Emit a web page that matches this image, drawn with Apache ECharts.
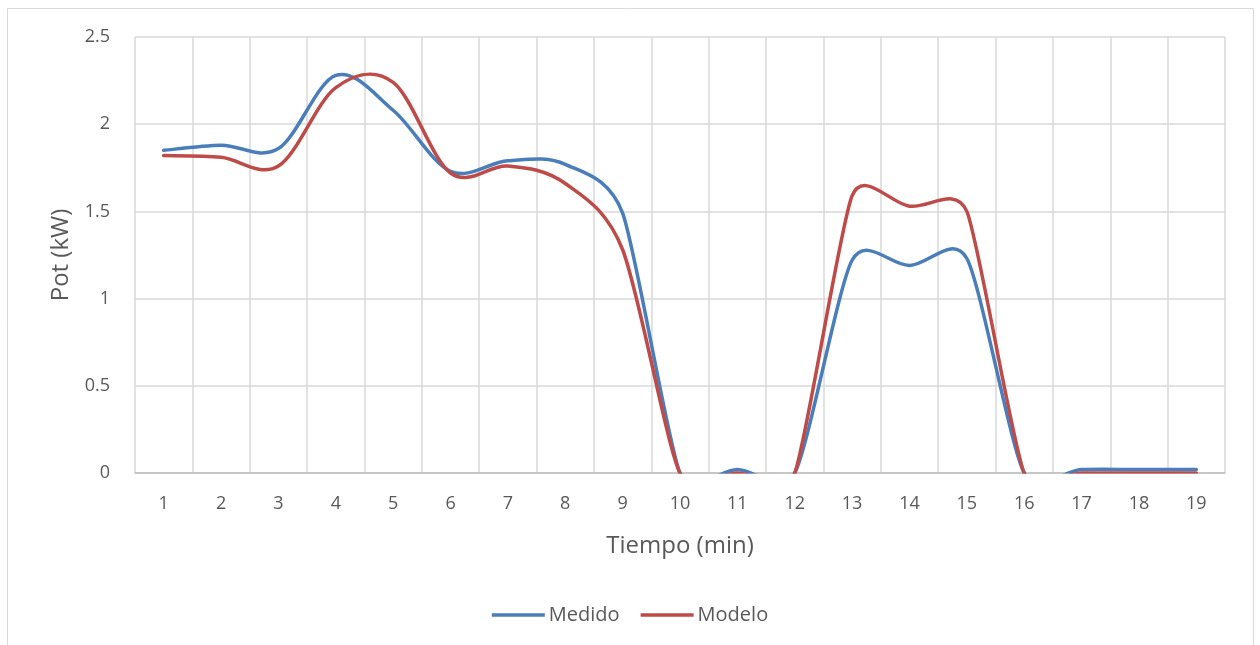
<!DOCTYPE html>
<html>
<head>
<meta charset="utf-8">
<script src="https://cdn.jsdelivr.net/npm/echarts@6/dist/echarts.min.js"></script>
<style>
html,body{margin:0;padding:0;background:#fff;}
#chart{width:1260px;height:645px;}
</style>
</head>
<body>
<div id="chart"></div>
<script>
const categories = ['1','2','3','4','5','6','7','8','9','10','11','12','13','14','15','16','17','18','19'];
const medido = [1.85, 1.88, 1.86, 2.28, 2.08, 1.73, 1.79, 1.77, 1.49, 0, 0.02, 0, 1.22, 1.19, 1.23, 0, 0.02, 0.02, 0.02];
const modelo = [1.82, 1.81, 1.76, 2.21, 2.24, 1.72, 1.76, 1.66, 1.28, 0, 0, 0, 1.59, 1.53, 1.50, 0, 0, 0, 0];
const yTicks = { min: 0, max: 2.5, interval: 0.5 };

const FONT = '"Open Sans", sans-serif';
const TXT = '#595959';
const BLUE = '#4a7ebb';
const RED = '#be4b48';

function dist(a, b) { return Math.hypot(b[0] - a[0], b[1] - a[1]); }

// Excel-like smoothed line: cubic Bezier through the data points (positions from api.coord)
function smoothRender(values, color) {
  return function (params, api) {
    if (params.dataIndex !== 0) return null;
    const pts = values.map((v, i) => api.coord([i, v]));
    const n = pts.length;
    // tangent vector at each point, limited to half of the shorter neighbour segment
    const tan = pts.map((p, i) => {
      const p0 = pts[Math.max(i - 1, 0)], p2 = pts[Math.min(i + 1, n - 1)];
      const d02 = dist(p0, p2);
      if (d02 === 0) return [0, 0];
      let f = 1 / 6;
      const d01 = dist(p0, p), d12 = dist(p, p2);
      const lim = Math.min(i > 0 ? d01 : Infinity, i < n - 1 ? d12 : Infinity) / 2;
      if (d02 * f > lim) f = lim / d02;
      return [(p2[0] - p0[0]) * f, (p2[1] - p0[1]) * f];
    });
    let d = 'M' + pts[0][0] + ',' + pts[0][1];
    for (let i = 0; i < n - 1; i++) {
      const p1 = pts[i], p2 = pts[i + 1];
      d += 'C' + (p1[0] + tan[i][0]) + ',' + (p1[1] + tan[i][1]) + ' ' +
           (p2[0] - tan[i + 1][0]) + ',' + (p2[1] - tan[i + 1][1]) + ' ' + p2[0] + ',' + p2[1];
    }
    const cs = params.coordSys;
    return {
      type: 'group',
      children: [{
        type: 'path',
        shape: { pathData: d },
        style: { fill: 'none', stroke: color, lineWidth: 3.5, lineJoin: 'round', lineCap: 'round' }
      }],
      clipPath: { type: 'rect', shape: { x: cs.x - 5, y: cs.y - 5, width: cs.width + 10, height: cs.height + 5.5 } }
    };
  };
}

const chart = echarts.init(document.getElementById('chart'));
chart.setOption({
  animation: false,
  backgroundColor: '#fff',
  graphic: [{
    type: 'rect', silent: true,
    shape: { x: 7.5, y: 8.5, width: 1246, height: 700 },
    style: { fill: 'none', stroke: '#d9d9d9', lineWidth: 1 }
  }],
  grid: { left: 135, right: 35, top: 37, bottom: 172, containLabel: false },
  legend: {
    data: [
      { name: 'Medido', icon: 'rect' },
      { name: 'Modelo', icon: 'rect' }
    ],
    top: 600, left: 'center',
    itemWidth: 53, itemHeight: 3.5, itemGap: 21,
    textStyle: { fontFamily: FONT, fontSize: 20, color: TXT, padding: [0, 0, 0, -1] }
  },
  xAxis: {
    type: 'category', data: categories, boundaryGap: true,
    name: 'Tiempo (min)', nameLocation: 'middle', nameGap: 61,
    nameTextStyle: { fontFamily: FONT, fontSize: 24, color: TXT },
    axisLine: { lineStyle: { color: '#bfbfbf', width: 1.5 } },
    axisTick: { show: false },
    axisLabel: { fontFamily: FONT, fontSize: 18, color: TXT, margin: 22, interval: 0 },
    splitLine: { show: true, interval: 0, lineStyle: { color: '#d9d9d9', width: 1.5 } }
  },
  yAxis: {
    type: 'value', min: yTicks.min, max: yTicks.max, interval: yTicks.interval,
    name: 'Pot (kW)', nameLocation: 'middle', nameGap: 62, nameRotate: 90,
    nameTextStyle: { fontFamily: FONT, fontSize: 24, color: TXT },
    axisLine: { show: false }, axisTick: { show: false },
    axisLabel: { fontFamily: FONT, fontSize: 18, color: TXT, margin: 25 },
    splitLine: { lineStyle: { color: '#d9d9d9', width: 1.5 } }
  },
  series: [
    { name: 'Medido', type: 'custom', coordinateSystem: 'cartesian2d',
      data: medido.map((v, i) => [i, v]), encode: { x: 0, y: 1 },
      renderItem: smoothRender(medido, BLUE), itemStyle: { color: BLUE } },
    { name: 'Modelo', type: 'custom', coordinateSystem: 'cartesian2d',
      data: modelo.map((v, i) => [i, v]), encode: { x: 0, y: 1 },
      renderItem: smoothRender(modelo, RED), itemStyle: { color: RED } }
  ]
});
</script>
</body>
</html>
